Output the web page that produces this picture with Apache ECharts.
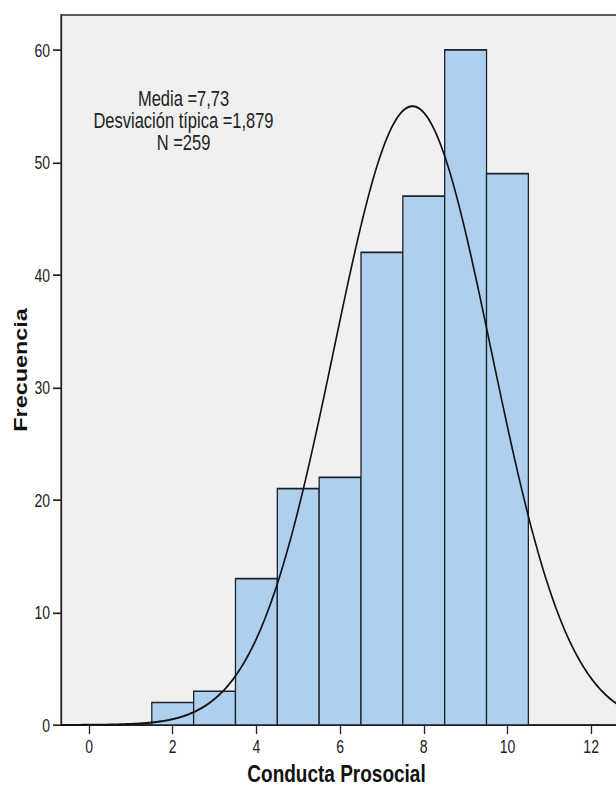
<!DOCTYPE html>
<html>
<head>
<meta charset="utf-8">
<script src="https://cdn.jsdelivr.net/npm/echarts@6/dist/echarts.min.js"></script>
<style>
  html, body { margin: 0; padding: 0; background: #fff; overflow: hidden; }
  #wrap { width: 616px; height: 787px; overflow: hidden; }
  /* the chart is laid out on a shorter canvas and stretched vertically */
  #chart { width: 616px; height: 605px; transform: scaleY(1.3008); transform-origin: 0 0; }
</style>
</head>
<body>
<div id="wrap"><div id="chart"></div></div>
<script>
// Histogram bins (centre of each unit-wide bin) and their frequencies
const binCenters = [2, 3, 4, 5, 6, 7, 8, 9, 10];
const frequencies = [2, 3, 13, 21, 22, 42, 47, 60, 49];

// Tick labels on each axis
const xTickValues = [0, 2, 4, 6, 8, 10, 12];
const yTickValues = [0, 10, 20, 30, 40, 50, 60];

// Summary statistics printed in the plot; the normal curve uses them
const mean = 7.73;
const stdDev = 1.879;
const count = 259;
const binWidth = 1;
const statsLines = ['Media =7,73', 'Desviación típica =1,879', 'N =259'];

const xMin = -0.67, xMax = 12.69;
const yMin = 0, yMax = 63.1;

// Normal density scaled to counts per bin
const peak = count * binWidth / (stdDev * Math.sqrt(2 * Math.PI));
const curve = [];
for (let k = 0; k <= 400; k++) {
  const x = xMin + (xMax - xMin) * k / 400;
  const z = (x - mean) / stdDev;
  curve.push([x, peak * Math.exp(-0.5 * z * z)]);
}

const font = "'Liberation Sans', Arial, sans-serif";
const ink = '#222222';

const chart = echarts.init(document.getElementById('chart'), null, { renderer: 'svg' });
chart.setOption({
  animation: false,
  backgroundColor: '#ffffff',
  grid: {
    left: 61, right: -4, top: 11.5, bottom: 47.65,
    outerBoundsMode: 'none', containLabel: false,
    show: true, backgroundColor: '#F0F0F0', borderColor: '#2a2a2a', borderWidth: 1.2
  },
  xAxis: {
    type: 'value', min: xMin, max: xMax,
    axisLine: { show: true, onZero: false, lineStyle: { color: ink, width: 1.3 } },
    axisTick: { show: true, customValues: xTickValues, length: 7, lineStyle: { color: ink, width: 1.3 } },
    axisLabel: { customValues: xTickValues, fontSize: 14, color: ink, margin: 9, fontFamily: font },
    splitLine: { show: false },
    name: 'Conducta Prosocial', nameLocation: 'middle', nameGap: 29.5,
    nameTextStyle: { fontSize: 19, lineHeight: 16, fontWeight: 'bold', color: '#111', fontFamily: font, padding: [0, 8, 0, 0] }
  },
  yAxis: {
    type: 'value', min: yMin, max: yMax,
    axisLine: { show: true, onZero: false, lineStyle: { color: ink, width: 1.3 } },
    axisTick: { show: true, customValues: yTickValues, length: 8, lineStyle: { color: ink, width: 1.3 } },
    axisLabel: { customValues: yTickValues, fontSize: 14, color: ink, margin: 11, fontFamily: font },
    splitLine: { show: false },
    name: 'Frecuencia', nameLocation: 'middle', nameGap: 31, nameMoveOverlap: false,
    nameTextStyle: { fontSize: 18, fontWeight: 'bold', color: '#111', fontFamily: font }
  },
  series: [
    {
      type: 'custom',
      data: binCenters.map((c, i) => [c, frequencies[i]]),
      encode: { x: 0, y: 1 },
      renderItem: (params, api) => {
        const c = api.value(0), f = api.value(1);
        const p0 = api.coord([c - binWidth / 2, f]);
        const p1 = api.coord([c + binWidth / 2, 0]);
        return {
          type: 'rect',
          shape: { x: p0[0], y: p0[1], width: p1[0] - p0[0], height: p1[1] - p0[1] },
          style: { fill: '#AFCFEE', stroke: '#1d2329', lineWidth: 1.3 }
        };
      },
      z: 2
    },
    {
      type: 'line',
      data: curve,
      showSymbol: false,
      smooth: false,
      clip: true,
      lineStyle: { color: '#111', width: 1.6 },
      z: 3
    }
  ],
  graphic: [
    {
      type: 'text', x: 183.5, y: 92.7, z: 10,
      style: {
        text: statsLines.join('\n'), align: 'center', verticalAlign: 'middle',
        fontSize: 16.5, lineHeight: 17, fill: ink, fontFamily: font
      }
    }
  ]
});
</script>
</body>
</html>
